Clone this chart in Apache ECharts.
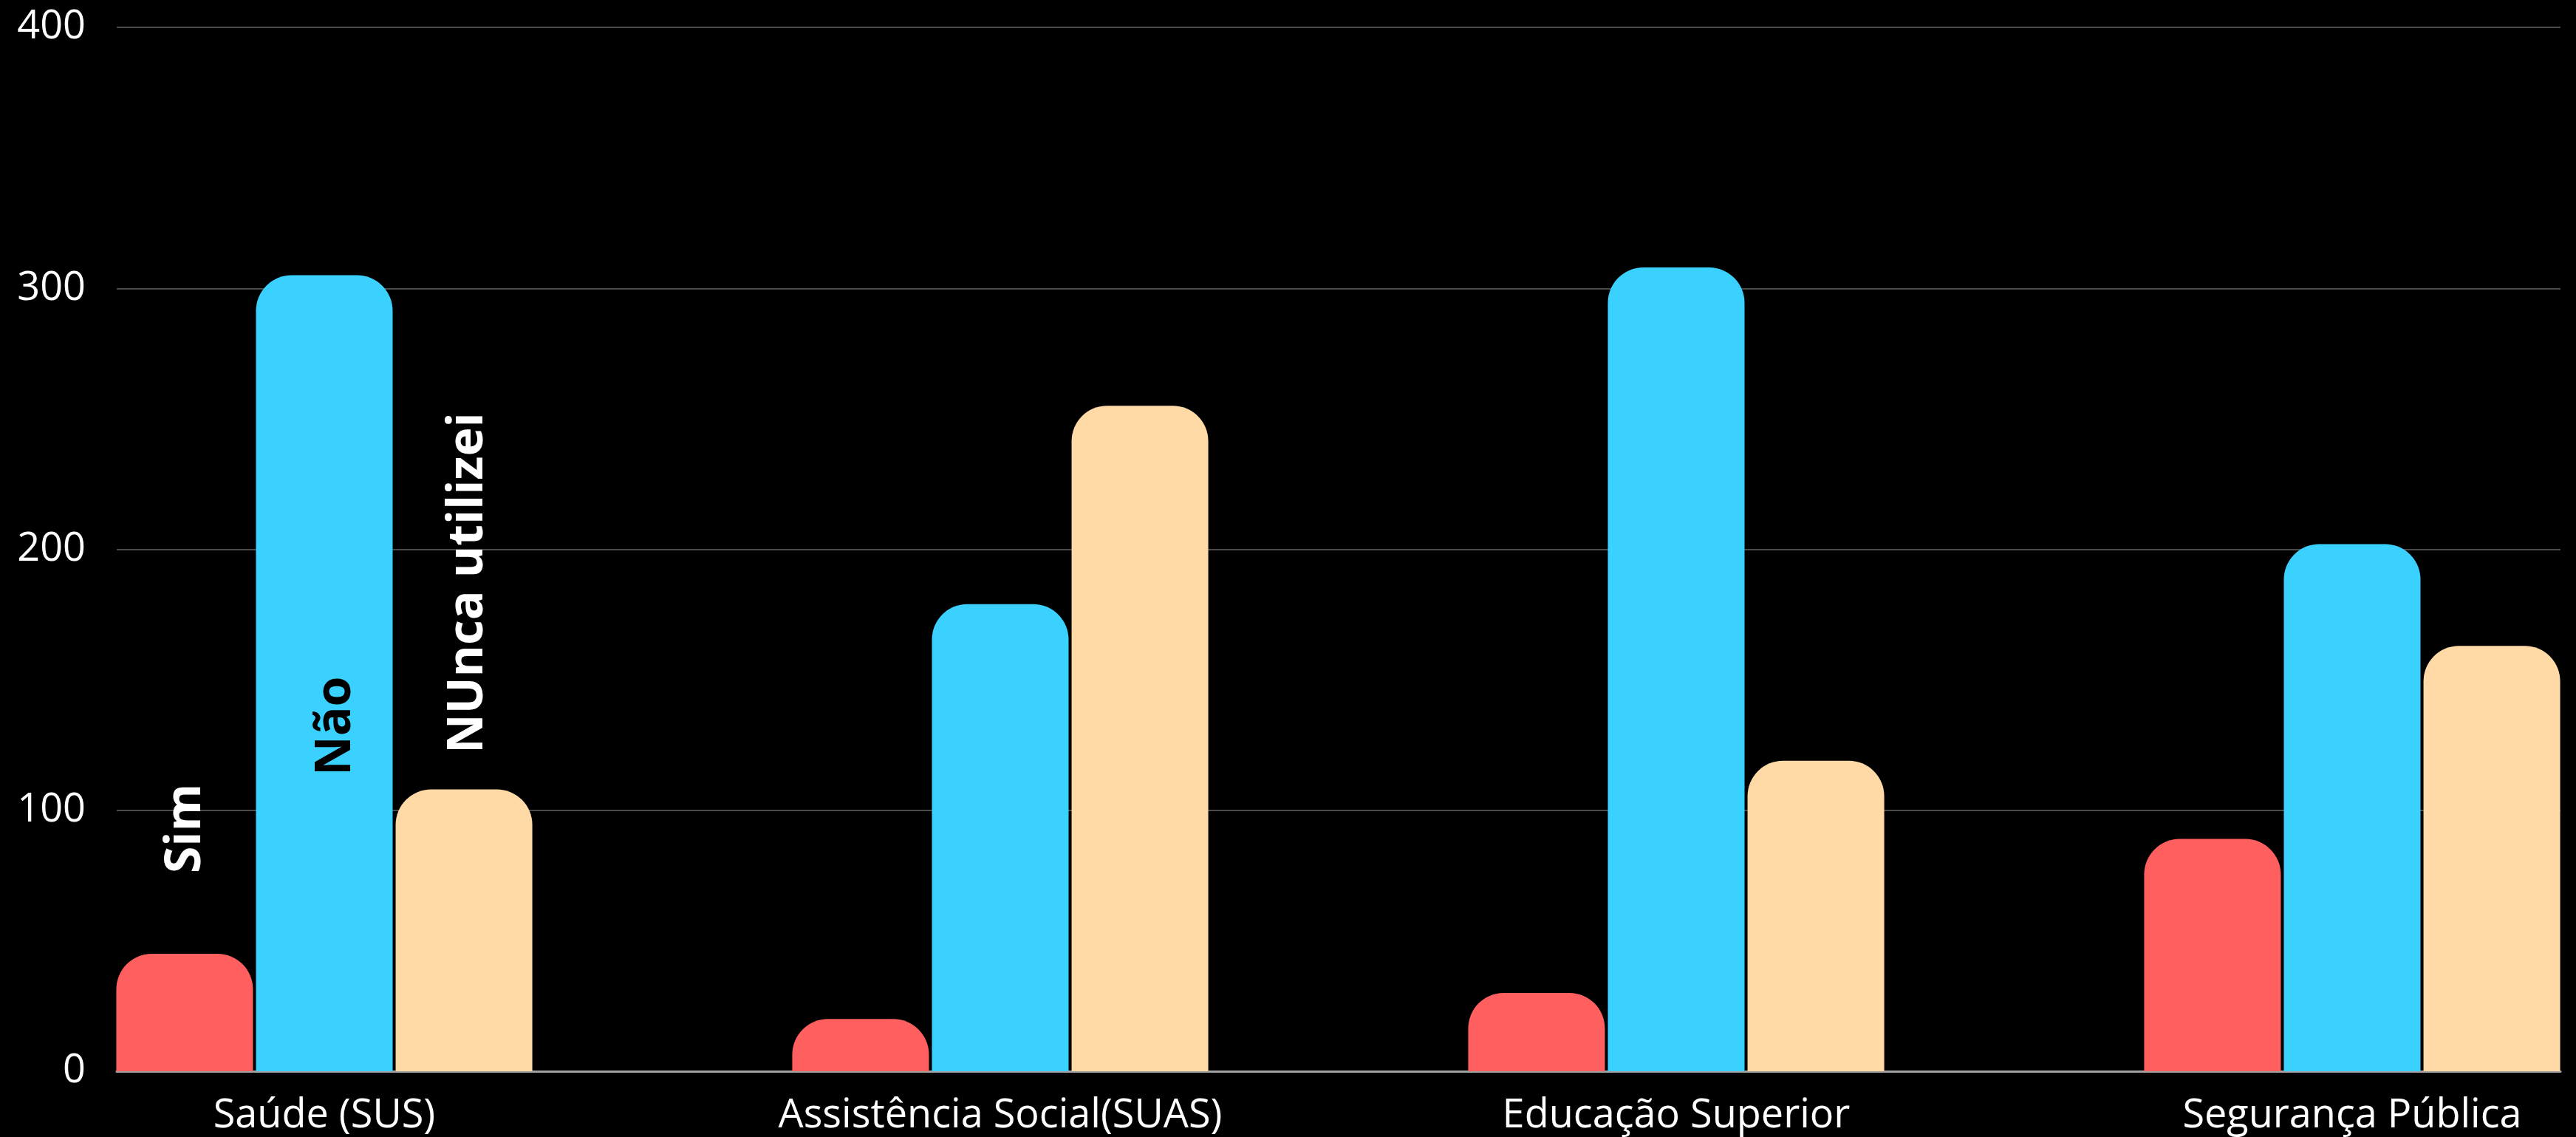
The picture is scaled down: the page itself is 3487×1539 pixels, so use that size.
<!DOCTYPE html>
<html>
<head>
<meta charset="utf-8">
<script src="https://cdn.jsdelivr.net/npm/echarts@6/dist/echarts.min.js"></script>
<style>
  html, body { margin: 0; padding: 0; background: #000; }
  #chart { width: 3487px; height: 1539px; }
</style>
</head>
<body>
<div id="chart"></div>
<script>
const categories = ['Saúde (SUS)', 'Assistência Social(SUAS)', 'Educação Superior', 'Segurança Pública'];
const seriesNames = ['Sim', 'Não', 'NUnca utilizei'];
const simValues = [45, 20, 30, 89];
const naoValues = [305, 179, 308, 202];
const nuncaValues = [108, 255, 119, 163];
const yTicks = { min: 0, max: 400, interval: 100 };

const colors = ['#ff5f5f', '#3ad1fe', '#ffdaa7'];
const labelColors = ['#fff', '#000', '#fff'];
const labelDistance = [268, 400, 430];
// offset is in the rotated frame: second value moves the text sideways
const labelShift = [2, 16, 6];

const chart = echarts.init(document.getElementById('chart'));

// series name shown rotated on the first category only
const makeData = (values, i) => values.map((v, j) => j === 0 ? {
    value: v,
    label: {
        show: true,
        formatter: seriesNames[i],
        rotate: 90,
        position: 'insideBottom',
        distance: labelDistance[i],
        offset: [0, labelShift[i]],
        align: 'left',
        verticalAlign: 'middle',
        color: labelColors[i],
        fontFamily: 'Open Sans',
        fontWeight: 'bold',
        fontSize: 66,
    },
} : v);

const allValues = [simValues, naoValues, nuncaValues];

const option = {
    backgroundColor: '#000',
    animation: false,
    grid: [
        { left: 158, right: 21, top: 37, bottom: 89 },
        { left: 439, right: 303, top: 37, bottom: 89 },
    ],
    xAxis: [
        {
            gridIndex: 0,
            type: 'category',
            data: categories,
            axisLine: { lineStyle: { color: '#a0a0a0', width: 3 } },
            axisTick: { show: false },
            axisLabel: { show: false },
        },
        {
            gridIndex: 1,
            type: 'category',
            data: categories,
            boundaryGap: false,
            axisLine: { show: false },
            axisTick: { show: false },
            axisLabel: {
                color: '#fff',
                fontFamily: 'Open Sans',
                fontSize: 54,
                margin: 34,
                interval: 0,
            },
        },
    ],
    yAxis: [
        {
            gridIndex: 0,
            type: 'value',
            min: yTicks.min,
            max: yTicks.max,
            interval: yTicks.interval,
            axisLine: { show: false },
            axisTick: { show: false },
            axisLabel: {
                color: '#fff',
                fontFamily: 'Open Sans',
                fontSize: 54,
                margin: 42,
            },
            splitLine: { lineStyle: { color: '#4a4a4a', width: 2 } },
        },
        {
            gridIndex: 1,
            type: 'value',
            min: yTicks.min,
            max: yTicks.max,
            show: false,
        },
    ],
    series: allValues.map((values, i) => ({
        name: seriesNames[i],
        type: 'bar',
        xAxisIndex: 1,
        yAxisIndex: 1,
        clip: false,
        barWidth: 185,
        barGap: '2.2%',
        itemStyle: {
            color: colors[i],
            borderRadius: [48, 48, 0, 0],
        },
        data: makeData(values, i),
    })),
};

chart.setOption(option);
</script>
</body>
</html>
